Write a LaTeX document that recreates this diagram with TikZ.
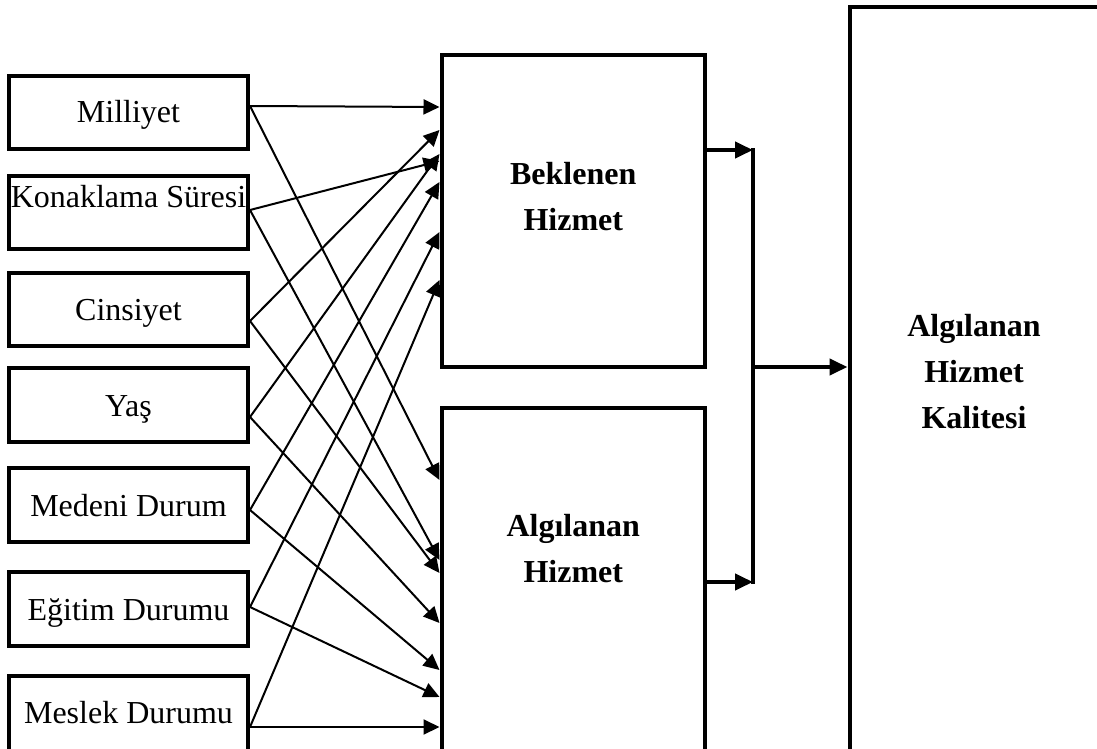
\documentclass[tikz,border=0pt]{standalone}
\usepackage{fontspec}
\setmainfont{Liberation Serif}
\usetikzlibrary{arrows.meta}
\begin{document}
\begin{tikzpicture}[x=1pt,y=-1pt,
  box/.style={draw, line width=4pt, inner sep=0pt},
  factor/.style={box, minimum width=239pt},
  lbl/.style={font=\fontsize{32pt}{38pt}\selectfont, anchor=base, inner sep=0pt},
  head/.style={font=\bfseries\fontsize{32pt}{46pt}\selectfont, align=center, anchor=base, inner sep=0pt},
  link/.style={line width=2pt, -{Triangle[length=16pt,width=15pt]}},
  feed/.style={line width=4pt, -{Triangle[length=18pt,width=16pt]}},
]
\useasboundingbox (0,0) rectangle (1097,749);
\clip (0,0) rectangle (1097,749);

% factor boxes on the left
\node[factor, minimum height=73pt] (mil) at (128.5,112.5) {};
\node[factor, minimum height=73pt] (kon) at (128.5,212.5) {};
\node[factor, minimum height=73pt] (cin) at (128.5,309.5) {};
\node[factor, minimum height=74pt] (yas) at (128.5,405) {};
\node[factor, minimum height=74pt] (med) at (128.5,505) {};
\node[factor, minimum height=74pt] (egi) at (128.5,609) {};
\node[factor, minimum height=84pt] (mes) at (128.5,718) {};

\node[lbl] (tmil) at (128.5,123) {Milliyet};
\node[lbl] (tkon) at (128.5,207) {Konaklama Süresi};
\node[lbl] (tcin) at (128.5,320) {Cinsiyet};
\node[lbl] (tyas) at (128.5,416) {Yaş};
\node[lbl] (tmed) at (128.5,516) {Medeni Durum};
\node[lbl] (tegi) at (128.5,620) {Eğitim Durumu};
\node[lbl] (tmes) at (128.5,723) {Meslek Durumu};

% service boxes
\node[box, minimum width=263.5pt, minimum height=311.5pt] (bek) at (573.25,210.75) {};
\node[box, minimum width=263.5pt, minimum height=362.5pt] (alg) at (573.25,588.75) {};
\node[box, minimum width=250.5pt, minimum height=773pt] (tot) at (974.75,393.5) {};

% multi-line titles are anchored on the baseline of their last line
\node[head] (tbek) at (573.25,230) {Beklenen\\Hizmet};
\node[head] (talg) at (573.25,582) {Algılanan\\Hizmet};
\node[head] (ttot) at (974,428) {Algılanan\\Hizmet\\Kalitesi};

% factors -> expected service
\draw[link] (mil.east |- 0,106) -- (bek.west |- 0,107);
\draw[link] (kon.east |- 0,210) -- (bek.west |- 0,161);
\draw[link] (cin.east |- 0,321) -- (bek.west |- 0,130);
\draw[link] (yas.east |- 0,417) -- (bek.west |- 0,154);
\draw[link] (med.east |- 0,510) -- (bek.west |- 0,182);
\draw[link] (egi.east |- 0,607) -- (bek.west |- 0,232);
\draw[link] (mes.east |- 0,727) -- (bek.west |- 0,280);

% factors -> perceived service
\draw[link] (mil.east |- 0,106) -- (alg.west |- 0,480);
\draw[link] (kon.east |- 0,210) -- (alg.west |- 0,560);
\draw[link] (cin.east |- 0,321) -- (alg.west |- 0,573);
\draw[link] (yas.east |- 0,417) -- (alg.west |- 0,623);
\draw[link] (med.east |- 0,510) -- (alg.west |- 0,670);
\draw[link] (egi.east |- 0,607) -- (alg.west |- 0,697);
\draw[link] (mes.east |- 0,727) -- (alg.west |- 0,727);

% both services feed the perceived quality
\coordinate (jt) at (753,150);
\coordinate (jm) at (753,367);
\coordinate (jb) at (753,582);
\draw[line width=4pt, line cap=rect] (jt) -- (jb);
\draw[feed] (bek.east |- jt) -- (jt);
\draw[feed] (alg.east |- jb) -- (jb);
\draw[feed] (jm) -- (tot.west |- jm);
\end{tikzpicture}
\end{document}
